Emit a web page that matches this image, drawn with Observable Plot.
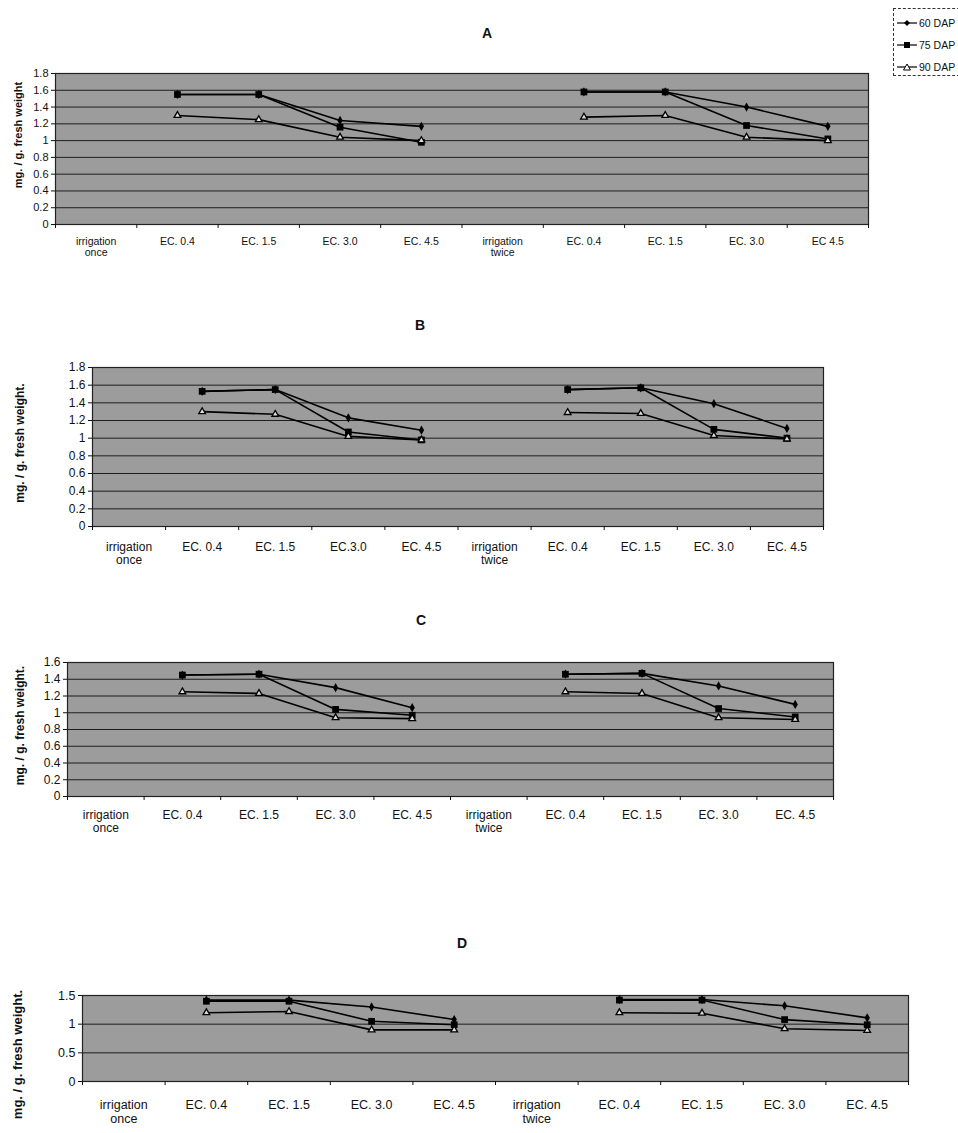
<!DOCTYPE html>
<html><head><meta charset="utf-8">
<script src="https://cdn.jsdelivr.net/npm/d3@7"></script>
<script src="https://cdn.jsdelivr.net/npm/@observablehq/plot@0.6"></script>
<style>
body{margin:0;background:#fff;font-family:"Liberation Sans",Arial,sans-serif;}
#wrap{position:relative;width:958px;height:1133px;overflow:hidden;background:#fff;}
.panel{position:absolute;left:0;overflow:visible;}
.title{position:absolute;font-weight:bold;font-size:14px;transform:translate(-50%,-50%);color:#111;}
#legend{position:absolute;left:893px;top:8px;width:70px;height:66px;border:1px dashed #333;font-size:10.5px;color:#111;}
#legend div{position:absolute;left:3px;height:14px;display:flex;align-items:center;white-space:nowrap;}
#legend svg{margin-right:2px;}
</style></head>
<body><div id="wrap"></div>
<script>
// categories (tick labels) per panel
const catsA = ["irrigation\nonce","EC. 0.4","EC. 1.5","EC. 3.0","EC. 4.5","irrigation\ntwice","EC. 0.4","EC. 1.5","EC. 3.0","EC 4.5"];
const catsB = ["irrigation\nonce","EC. 0.4","EC. 1.5","EC.3.0","EC. 4.5","irrigation\ntwice","EC. 0.4","EC. 1.5","EC. 3.0","EC. 4.5"];
const catsC = ["irrigation\nonce","EC. 0.4","EC. 1.5","EC. 3.0","EC. 4.5","irrigation\ntwice","EC. 0.4","EC. 1.5","EC. 3.0","EC. 4.5"];
const catsD = ["irrigation\nonce","EC. 0.4","EC. 1.5","EC. 3.0","EC. 4.5","irrigation\ntwice","EC. 0.4","EC. 1.5","EC. 3.0","EC. 4.5"];
const seriesNames = ["60 DAP","75 DAP","90 DAP"];

// values (mg / g fresh weight); null = no value at the group heading
const A60 = [null,1.55,1.55,1.24,1.17,null,1.58,1.58,1.40,1.17];
const A75 = [null,1.55,1.55,1.16,0.98,null,1.58,1.58,1.18,1.02];
const A90 = [null,1.30,1.25,1.04,1.00,null,1.28,1.30,1.04,1.00];
const B60 = [null,1.53,1.55,1.23,1.09,null,1.55,1.57,1.39,1.11];
const B75 = [null,1.53,1.55,1.07,0.98,null,1.55,1.57,1.10,1.00];
const B90 = [null,1.30,1.27,1.02,0.98,null,1.29,1.28,1.03,0.99];
const C60 = [null,1.45,1.46,1.30,1.06,null,1.46,1.47,1.32,1.10];
const C75 = [null,1.45,1.46,1.04,0.97,null,1.46,1.47,1.05,0.95];
const C90 = [null,1.25,1.23,0.94,0.93,null,1.25,1.23,0.94,0.92];
const D60 = [null,1.42,1.42,1.30,1.08,null,1.43,1.43,1.32,1.11];
const D75 = [null,1.40,1.40,1.05,0.99,null,1.42,1.42,1.08,0.99];
const D90 = [null,1.20,1.22,0.90,0.90,null,1.20,1.19,0.92,0.89];

const ticks18 = [0,0.2,0.4,0.6,0.8,1,1.2,1.4,1.6,1.8];
const ticks16 = [0,0.2,0.4,0.6,0.8,1,1.2,1.4,1.6];
const ticks15 = [0,0.5,1,1.5];

const panels = [
  {title:"A", tx:487, ty:33, top:60, mt:13, mb:42, ph:151, ml:55, mr:90, cats:catsA, s:[A60,A75,A90], ticks:ticks18, ymax:1.8,
   ylab:"mg. / g. fresh weight", ylx:18, yldy:-14, ylfs:11, tfs:11, xfs:10.5, xpad:12},
  {title:"B", tx:420, ty:325, top:355, mt:12, mb:42, ph:159, ml:92, mr:135, cats:catsB, s:[B60,B75,B90], ticks:ticks18, ymax:1.8,
   ylab:"mg. / g. fresh weight.", ylx:20, yldy:-4, ylfs:12, tfs:12, xfs:12, xpad:15},
  {title:"C", tx:421, ty:620, top:650, mt:12, mb:42, ph:134, ml:67, mr:125, cats:catsC, s:[C60,C75,C90], ticks:ticks16, ymax:1.6,
   ylab:"mg. / g. fresh weight.", ylx:20, yldy:-4, ylfs:12, tfs:12, xfs:12, xpad:13},
  {title:"D", tx:462, ty:943, top:983, mt:12, mb:50, ph:86, ml:82, mr:50, cats:catsD, s:[D60,D75,D90], ticks:ticks15, ymax:1.5,
   ylab:"mg. / g. fresh weight.", ylx:17, yldy:16, ylfs:13, tfs:12.5, xfs:12.5, xpad:18}
];

const wrap = document.getElementById("wrap");

for (const p of panels) {
  const data = [];
  p.s.forEach((vals, k) => vals.forEach((v, i) => data.push({x: i + 0.5, y: v, series: seriesNames[k]})));
  const height = p.mt + p.ph + p.mb;
  const chart = Plot.plot({
    width: 958, height,
    marginLeft: p.ml, marginRight: p.mr, marginTop: p.mt, marginBottom: p.mb,
    style: {fontFamily: '"Liberation Sans", Arial, sans-serif', color: "#111", background: "transparent", overflow: "visible"},
    x: {type: "linear", domain: [0, 10]},
    y: {domain: [0, p.ymax]},
    marks: [
      Plot.frame({fill: "#9c9c9c"}),
      Plot.gridY(p.ticks, {stroke: "#111", strokeOpacity: 0.9, strokeWidth: 1}),
      Plot.frame({stroke: "#222", strokeWidth: 1.2}),
      Plot.axisY(p.ticks, {tickSize: 4, tickPadding: 3, fontSize: p.tfs, label: null, tickFormat: d => `${d}`}),
      Plot.axisX(d3.range(11), {tickSize: 4, tickFormat: () => "", label: null}),
      Plot.axisX(d3.range(10).map(i => i + 0.5), {tickSize: 0, tickPadding: p.xpad, fontSize: p.xfs,
        tickFormat: v => p.cats[Math.floor(v)], label: null, lineHeight: 1.1}),
      Plot.text([p.ylab], {frameAnchor: "left", textAnchor: "middle", rotate: -90, dx: -(p.ml - p.ylx), dy: p.yldy,
        fontWeight: "bold", fontSize: p.ylfs, fill: "#111"}),
      Plot.line(data, {x: "x", y: "y", z: "series", stroke: "#000", strokeWidth: 1.6}),
      Plot.dot(data.filter(d => d.series === "60 DAP"), {x: "x", y: "y", symbol: "diamond", r: 2.8, fill: "#000"}),
      Plot.dot(data.filter(d => d.series === "75 DAP"), {x: "x", y: "y", symbol: "square", r: 3.8, fill: "#000"}),
      Plot.dot(data.filter(d => d.series === "90 DAP"), {x: "x", y: "y", symbol: "triangle2", r: 3.2, stroke: "#000", fill: "#ddd", strokeWidth: 1.3})
    ]
  });
  chart.classList.add("panel");
  chart.style.top = p.top + "px";
  chart.style.overflow = "visible";
  wrap.appendChild(chart);

  const t = document.createElement("div");
  t.className = "title";
  t.textContent = p.title;
  t.style.left = p.tx + "px";
  t.style.top = p.ty + "px";
  wrap.appendChild(t);
}

// legend
const legend = document.createElement("div");
legend.id = "legend";
const symbols = [
  '<polygon points="10,2 13,5 10,8 7,5" fill="#000"/>',
  '<rect x="7" y="2" width="6" height="6" fill="#000"/>',
  '<polygon points="10,2 13.5,8 6.5,8" fill="#fff" stroke="#000" stroke-width="1"/>'
];
seriesNames.forEach((name, k) => {
  const row = document.createElement("div");
  row.style.top = (7 + k * 22) + "px";
  row.innerHTML = `<svg width="20" height="10"><line x1="0" y1="5" x2="20" y2="5" stroke="#000" stroke-width="1.2"/>${symbols[k]}</svg><span>${name}</span>`;
  legend.appendChild(row);
});
wrap.appendChild(legend);
</script>
</body></html>
